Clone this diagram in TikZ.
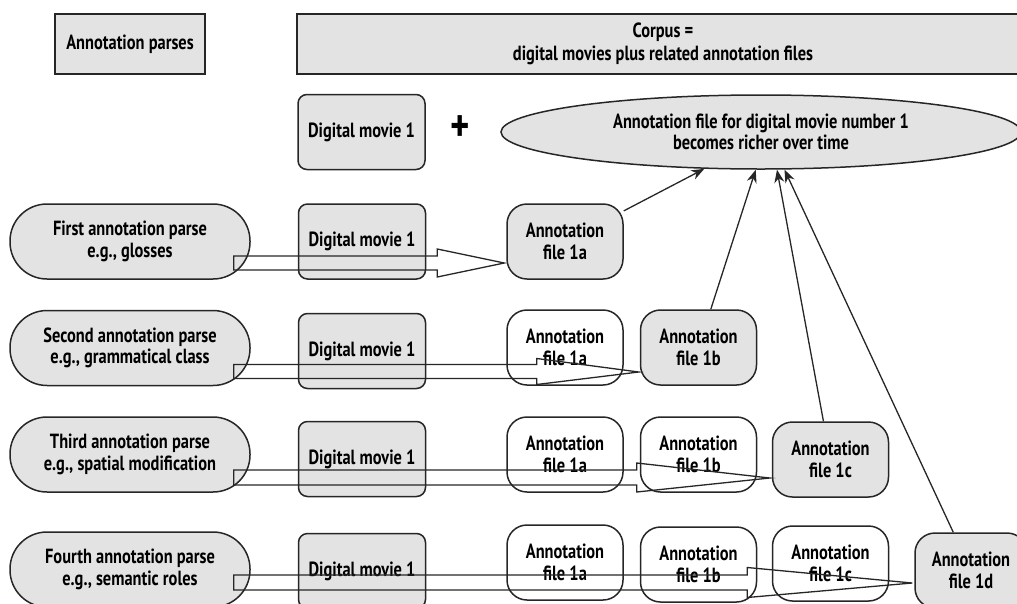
\documentclass[tikz,border=0pt]{standalone}
\usepackage{fontspec}
\setmainfont{PT Sans}[FakeStretch=0.8]
\usetikzlibrary{shapes.geometric,arrows.meta,calc}
\definecolor{boxgray}{HTML}{E3E3E3}
\definecolor{linec}{HTML}{262626}
\newcommand\blockarrow[5]{%
  \draw[blockarr] let \p1=(#1), \p2=(#2) in
   (\x1,{\y1+#4}) -- ({\x2-#3},{\y1+#4}) -- ({\x2-#3},{\y1+#5}) -- (\x2,\y2)
   -- ({\x2-#3},{\y1-#5}) -- ({\x2-#3},{\y1-#4}) -- (\x1,{\y1-#4}) -- cycle;}
\begin{document}
\begin{tikzpicture}[x=1pt,y=-1pt,
  every node/.style={font=\fontsize{20.5}{21.5}\selectfont\bfseries, align=center, inner sep=0pt, text=black},
  sqbox/.style={draw=linec, line width=1.7pt, fill=boxgray, minimum height=60pt},
  movie/.style={draw=linec, line width=1.5pt, fill=boxgray, rounded corners=9pt, minimum width=127pt, minimum height=75pt},
  parse/.style={draw=linec, line width=1.5pt, fill=boxgray, rounded corners=37pt, minimum width=240pt, minimum height=75pt},
  filebox/.style={draw=linec, line width=1.5pt, rounded corners=20pt, minimum width=116pt, minimum height=75pt},
  cur/.style={filebox, fill=boxgray},
  old/.style={filebox, fill=white},
  blockarr/.style={draw=linec, line width=1.3pt, line join=miter},
  thin/.style={draw=linec, line width=1.3pt, -{Stealth[length=13pt,width=10pt]}},
]
\useasboundingbox (0,0) rectangle (1017,603);
% header
\node[sqbox, minimum width=150pt] (parses) at (130,44) {Annotation parses};
\node[sqbox, minimum width=732pt, font=\fontsize{20.5}{22.5}\selectfont\bfseries] (corpus) at (663,44) {Corpus =\\digital movies plus related annotation files};
\node[movie] (dm0) at (361.5,132) {Digital movie 1};
\node[font=\fontsize{46}{46}\selectfont\bfseries] (plus) at (460,129) {+};
\node[ellipse, draw=linec, line width=1.5pt, fill=boxgray, minimum width=520pt, minimum height=74pt] (ell) at (761,132)
  {Annotation file for digital movie number 1\\becomes richer over time};
% row 1
\node[parse] (p1) at (130,241.5) {First annotation parse\\e.g., glosses};
\node[movie] (m1) at (362,241.5) {Digital movie 1};
\node[cur] (a1) at (565,241.5) {Annotation\\file 1a};
% row 2
\node[parse] (p2) at (130,348) {Second annotation parse\\e.g., grammatical class};
\node[movie] (m2) at (362,351) {Digital movie 1};
\node[old] (a2) at (565,347.5) {Annotation\\file 1a};
\node[cur] (b2) at (698.5,347.5) {Annotation\\file 1b};
% row 3
\node[parse] (p3) at (130,454.5) {Third annotation parse\\e.g., spatial modification};
\node[movie] (m3) at (362,459) {Digital movie 1};
\node[old] (a3) at (565,454.5) {Annotation\\file 1a};
\node[old] (b3) at (698.5,454.5) {Annotation\\file 1b};
\node[cur] (c3) at (830.5,459.5) {Annotation\\file 1c};
% row 4
\node[parse] (p4) at (130,569.5) {Fourth annotation parse\\e.g., semantic roles};
\node[movie] (m4) at (362,571) {Digital movie 1};
\node[old] (a4) at (565,562.5) {Annotation\\file 1a};
\node[old] (b4) at (698.5,564.5) {Annotation\\file 1b};
\node[old] (c4) at (830.5,563.5) {Annotation\\file 1c};
\node[cur, minimum width=112pt] (d4) at (971,570.5) {Annotation\\file 1d};
% block arrows
\coordinate (s1) at ($(p1.east)+(-17,21.5)$);
\coordinate (e1) at ($(a1.west)+(-2,21.5)$);
\coordinate (s2) at ($(p2.east)+(-17,23.5)$);
\coordinate (e2) at ($(b2.west)+(-1,24.5)$);
\coordinate (s3) at ($(p3.east)+(-17,23)$);
\coordinate (e3) at ($(c3.west)+(-2,18.5)$);
\coordinate (s4) at ($(p4.east)+(-17,13)$);
\coordinate (e4) at ($(d4.west)+(-2,12.5)$);
\blockarrow{s1}{e1}{67pt}{7pt}{14pt}
\blockarrow{s2}{e2}{102pt}{7pt}{13pt}
\blockarrow{s3}{e3}{133pt}{7.5pt}{14.5pt}
\blockarrow{s4}{e4}{165pt}{7.5pt}{15pt}
% thin arrows
\draw[thin] (a1) -- (ell.213);
\draw[thin] (b2) -- (ell.262);
\draw[thin] (c3) -- (ell.293);
\draw[thin] (d4) -- (ell.302);
\end{tikzpicture}
\end{document}
